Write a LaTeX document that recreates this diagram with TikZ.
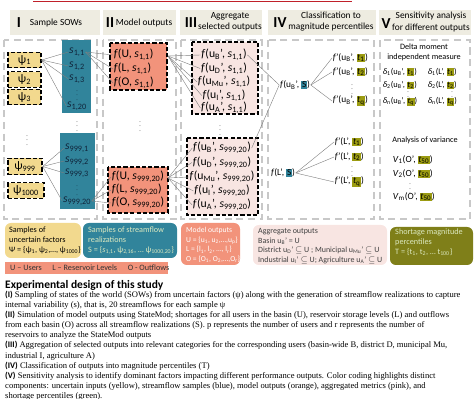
\documentclass[tikz,border=0pt]{standalone}
\usepackage{fontspec}
\setmainfont{Liberation Serif}
\setsansfont{Carlito}
\usetikzlibrary{arrows.meta,positioning,calc}
\definecolor{hdrgray}{HTML}{EEECE1}
\definecolor{panelgray}{HTML}{C8C8C8}
\definecolor{wiregray}{HTML}{7F7F7F}
\definecolor{sowyel}{HTML}{F2D98E}
\definecolor{flowblue}{HTML}{31849B}
\definecolor{outorange}{HTML}{F2937B}
\definecolor{aggpink}{HTML}{F8E5E2}
\definecolor{pctolive}{HTML}{7F7F19}
\definecolor{hlolive}{HTML}{9C9C12}
\definecolor{navytext}{HTML}{10243A}
\definecolor{palegreen}{HTML}{DCE9C0}
\definecolor{topred}{HTML}{C0202A}
\newcommand\sbs[1]{\textsubscript{#1}}
\newcommand\fout[2]{\textit{f}(#1, \textit{s}\sbs{#2})}
\newcommand\fagg[2]{\textit{f}(u\sbs{#1}', \textit{s}\sbs{#2})}
\newcommand\tmark[1]{{\setlength{\fboxsep}{0.5pt}\colorbox{hlolive}{\textit{t}\sbs{#1}}}}
\newcommand\Smark{{\setlength{\fboxsep}{0.6pt}\colorbox{flowblue}{S}}}

\begin{document}
\begin{tikzpicture}[x=0.03cm,y=-0.03cm,font=\sffamily,
  panel/.style={draw=panelgray,line width=0.9pt,dash pattern=on 6pt off 4pt},
  cell/.style={draw=black,line width=1.1pt,dash pattern=on 3.5pt off 1.8pt},
  wire/.style={draw=wiregray,line width=0.35pt},
  itm/.style={inner sep=0.5pt,font=\sffamily\fontsize{10}{11}\selectfont},
  sml/.style={inner sep=0.5pt,font=\sffamily\fontsize{8}{9}\selectfont},
  tiny/.style={inner sep=0.5pt,font=\sffamily\fontsize{7.2}{8}\selectfont},
  hdtxt/.style={inner sep=0pt,align=center,font=\sffamily\fontsize{8}{9.4}\selectfont},
  hdnum/.style={inner sep=0pt,font=\sffamily\bfseries\fontsize{13}{13}\selectfont},
  leg/.style={anchor=north west,align=left,inner sep=0pt,font=\sffamily\fontsize{7}{8.4}\selectfont},
  vdt/.style={inner sep=0pt,font=\fontsize{5}{5}\selectfont}]
  \useasboundingbox (0,0) rectangle (474,399);
  \draw[topred,line width=1.3pt] (33,1.5) -- (352,1.5);
  % headers
  \fill[hdrgray] (10,10) rectangle (100,35);
  \fill[hdrgray] (103,10) rectangle (176,35);
  \fill[hdrgray] (180,10) rectangle (262,35);
  \fill[hdrgray] (268,10) rectangle (376,35);
  \fill[hdrgray] (379,10) rectangle (471,35);
  \node[hdnum] (hI) at (19,23) {I};
  \node[hdtxt] (tI) at (56,23) {Sample SOWs};
  \node[hdnum] (hII) at (110,23) {II};
  \node[hdtxt] (tII) at (144,23) {Model outputs};
  \node[hdnum] (hIII) at (191,23) {III};
  \node[hdtxt] (tIII) at (230,22) {Aggregate\\selected outputs};
  \node[hdnum] (hIV) at (280,23) {IV};
  \node[hdtxt] (tIV) at (331,22) {Classification to\\magnitude percentiles};
  \node[hdnum] (hV) at (386,24) {V};
  \node[hdtxt] (tV) at (431,22) {Sensitivity analysis\\for different outputs};
  % dashed panels
  \draw[panel] (4,40) rectangle (97,219);
  \draw[panel] (103,40) rectangle (176,219);
  \draw[panel] (181,40) rectangle (262,219);
  \draw[panel] (268,40) rectangle (374,219);
  \draw[panel] (380,40) rectangle (470,219);

  % I: uncertain factors and streamflows
  \node[cell,fill=sowyel,itm,minimum width=0.99cm,minimum height=0.46cm] (psi1) at (24.5,60) {ψ\sbs{1}};
  \node[cell,fill=sowyel,itm,minimum width=0.99cm,minimum height=0.46cm] (psi2) at (24.5,79.5) {ψ\sbs{2}};
  \node[cell,fill=sowyel,itm,minimum width=0.99cm,minimum height=0.46cm] (psi3) at (24.5,97) {ψ\sbs{3}};
  \node[vdt] (vpsi) at (27,137) {$\vdots$};
  \node[cell,fill=sowyel,itm,minimum width=1.02cm,minimum height=0.5cm] (psi999) at (25,166.5) {ψ\sbs{999}};
  \node[cell,fill=sowyel,itm,minimum width=1.08cm,minimum height=0.46cm] (psi1000) at (26,190.5) {ψ\sbs{1000}};
  \fill[flowblue] (62,40) rectangle (91,113);
  \begin{scope}[every node/.style={itm,text=navytext}]
    \node (s11) at (77,52) {\textit{s}\sbs{1,1}};
    \node (s12) at (77,66) {\textit{s}\sbs{1,2}};
    \node (s13) at (77,79) {\textit{s}\sbs{1,3}};
    \node (s120) at (77,106) {\textit{s}\sbs{1,20}};
  \end{scope}
  \node[vdt,text=navytext] (vs1) at (77,92) {$\vdots$};
  \node[vdt] (vs) at (77,123) {$\vdots$};
  \fill[flowblue] (60,133) rectangle (95,209);
  \begin{scope}[every node/.style={itm,text=navytext}]
    \node (s9991) at (77,148) {\textit{s}\sbs{999,1}};
    \node (s9992) at (77,161) {\textit{s}\sbs{999,2}};
    \node (s9993) at (77,173) {\textit{s}\sbs{999,3}};
    \node (s99920) at (77,201) {\textit{s}\sbs{999,20}};
  \end{scope}
  \node[vdt,text=navytext] (vs999) at (77,187) {$\vdots$};
  \foreach \k in {s11,s12,s13,s120} \draw[wire] (psi1.east) -- (\k.west);
  \foreach \k in {s9991,s9992,s9993,s99920} \draw[wire] (psi999.east) -- (\k.west);

  % II: model outputs
  \fill[outorange] (110,43) rectangle (167,90);
  \draw[cell] (110,43) rectangle (167,90);
  \node[itm,anchor=west] (fU1) at (113,55) {\fout{U}{1,1}};
  \node[itm,anchor=west] (fL1) at (113,69) {\fout{L}{1,1}};
  \node[itm,anchor=west] (fO1) at (113,83) {\fout{O}{1,1}};
  \node[vdt] (vf) at (140,123) {$\vdots$};
  \fill[outorange] (108,167) rectangle (168,213);
  \draw[cell] (108,167) rectangle (168,213);
  \node[itm,anchor=west] (fU2) at (111,177) {\fout{U}{999,20}};
  \node[itm,anchor=west] (fL2) at (111,190) {\fout{L}{999,20}};
  \node[itm,anchor=west] (fO2) at (111,203) {\fout{O}{999,20}};
  \foreach \k in {fU1,fL1,fO1} \draw[wire] (s11.east) -- (\k.west);
  \foreach \k in {fU2,fL2,fO2} \draw[wire] (s99920.east) -- (\k.west);

  % III: aggregated outputs
  \fill[aggpink] (192,42) rectangle (258,114);
  \draw[cell] (192,42) rectangle (258,114);
  \node[itm] (aB1) at (224,55) {\fagg{B}{1,1}};
  \node[itm] (aD1) at (224,68.5) {\fagg{D}{1,1}};
  \node[itm] (aM1) at (224,82) {\fagg{Mu}{1,1}};
  \node[itm] (aI1) at (224,95.5) {\fagg{I}{1,1}};
  \node[itm] (aA1) at (224,108) {\fagg{A}{1,1}};
  \node[vdt] (va) at (220,127) {$\vdots$};
  \fill[aggpink] (187,138) rectangle (258,215);
  \draw[cell] (187,138) rectangle (258,215);
  \node[itm] (aB2) at (222,148) {\fagg{B}{999,20}};
  \node[itm] (aD2) at (222,162.5) {\fagg{D}{999,20}};
  \node[itm] (aM2) at (222,177) {\fagg{Mu}{999,20}};
  \node[itm] (aI2) at (222,191) {\fagg{I}{999,20}};
  \node[itm] (aA2) at (222,205) {\fagg{A}{999,20}};
  \coordinate (otop) at (168,56);
  \coordinate (obot) at (168,178);
  \foreach \k in {aB1,aD1,aM1,aI1,aA1} \draw[wire] (otop) -- (\k.west);
  \foreach \k in {aB2,aD2,aM2,aI2,aA2} \draw[wire] (obot) -- (\k.west);

  % IV: percentiles
  \node[sml] (fBS) at (295,85) {\textit{f}(u\sbs{B}', \Smark)};
  \node[sml] (fLS) at (283,173) {\textit{f}(L', \Smark)};
  \draw[wire] (aB1.east) -- (fBS.west);
  \draw[wire] (aB2.east) -- (fBS.west);
  \node[sml,anchor=west] (pB1) at (332,58) {\textit{f}'(u\sbs{B}', \tmark{1})};
  \node[sml,anchor=west] (pB2) at (332,72) {\textit{f}'(u\sbs{B}', \tmark{2})};
  \node[vdt] (vpB) at (352,86) {$\vdots$};
  \node[sml,anchor=west] (pBq) at (332,101) {\textit{f}'(u\sbs{B}', \tmark{q})};
  \node[sml,anchor=west] (pL1) at (334,142) {\textit{f}'(L', \tmark{1})};
  \node[sml,anchor=west] (pL2) at (334,157) {\textit{f}'(L', \tmark{2})};
  \node[vdt] (vpL) at (352,168.5) {$\vdots$};
  \node[sml,anchor=west] (pLq) at (334,182) {\textit{f}'(L', \tmark{q})};
  \foreach \k in {pB1,pB2,pBq} \draw[wire] (fBS.east) -- (\k.west);
  \foreach \k in {pL1,pL2,pLq} \draw[wire] (fLS.east) -- (\k.west);

  % V: sensitivity analysis
  \node[hdtxt,font=\sffamily\fontsize{7}{8.6}\selectfont] (dmim) at (424,52) {Delta moment\\independent measure};
  \node[tiny,anchor=west] (dB1) at (382,72) {\textit{δ}\sbs{1}(u\sbs{B}', \tmark{1})};
  \node[tiny,anchor=west] (dL1) at (427,72) {\textit{δ}\sbs{1}(L', \tmark{1})};
  \node[tiny,anchor=west] (dB2) at (382,85.5) {\textit{δ}\sbs{2}(u\sbs{B}', \tmark{2})};
  \node[tiny,anchor=west] (dL2) at (427,85.5) {\textit{δ}\sbs{2}(L', \tmark{2})};
  \node[vdt] (vdB) at (408,93.5) {$\vdots$};
  \node[vdt] (vdL) at (452,93.5) {$\vdots$};
  \node[tiny,anchor=west] (dBn) at (382,102) {\textit{δ}\sbs{n}(u\sbs{B}', \tmark{q})};
  \node[tiny,anchor=west] (dLn) at (427,102) {\textit{δ}\sbs{n}(L', \tmark{q})};
  \node[hdtxt,font=\sffamily\fontsize{7}{8.6}\selectfont] (aov) at (425,140) {Analysis of variance};
  \node[sml,anchor=west] (V1) at (392,160) {\textit{V}\sbs{1}(O', \tmark{50})};
  \node[sml,anchor=west] (V2) at (392,174) {\textit{V}\sbs{2}(O', \tmark{50})};
  \node[vdt] (vV) at (410,185.5) {$\vdots$};
  \node[sml,anchor=west] (Vm) at (392,197) {\textit{V}\sbs{m}(O', \tmark{50})};

  % legend boxes
  \fill[sowyel,rounded corners=5pt] (5,223) rectangle (81,258);
  \node[leg] (lgY) at (9,227) {Samples of\\uncertain factors\\Ψ = \{ψ\sbs{1}, ψ\sbs{2},…, ψ\sbs{1000}\}};
  \fill[flowblue,rounded corners=5pt] (83,223) rectangle (177,258);
  \node[leg,text=palegreen] (lgB) at (88,227) {Samples of streamflow\\realizations\\S = \{\textit{s}\sbs{1,1}, ψ\sbs{2,16}, … ψ\sbs{1000,20}\}};
  \fill[outorange,rounded corners=5pt] (181,223) rectangle (240,265);
  \node[leg,text=white,font=\sffamily\fontsize{6.5}{8.3}\selectfont] (lgO) at (186,227) {Model outputs\\U = \{u\sbs{1}, u\sbs{2},…,u\sbs{p}\}\\L = \{l\sbs{1}, l\sbs{2}, …, l\sbs{r}\}\\O = \{O\sbs{1}, O\sbs{2},…,O\sbs{r}\}};
  \fill[outorange] (5,262) rectangle (168,274);
  \node[leg,anchor=west,text=black!80] (lgU) at (10,268) {U – Users\hspace{1.3em}L – Reservoir Levels\hspace{1.3em}O - Outflows};
  \fill[aggpink,rounded corners=5pt] (253,225) rectangle (387,265);
  \node[leg,text=black!75,font=\sffamily\fontsize{6.8}{8.3}\selectfont] (lgP) at (258,228) {Aggregate outputs\\Basin u\sbs{B}' = U\\District u\sbs{D}' $\subseteq$ U ; Municipal u\sbs{Mu}' $\subseteq$ U\\Industrial u\sbs{I}' $\subseteq$ U; Agriculture u\sbs{A}' $\subseteq$ U};
  \fill[pctolive,rounded corners=5pt] (390,227) rectangle (473,265);
  \node[leg,text=palegreen] (lgG) at (395,229) {Shortage magnitude\\percentiles\\T = \{t\sbs{1}, t\sbs{2}, … t\sbs{100}\}};

  % description
  \node[anchor=west,inner sep=0pt,font=\sffamily\bfseries\fontsize{9.8}{12}\selectfont] (design) at (5,285) {Experimental design of this study};
  \node[anchor=north west,align=left,inner sep=0pt,font=\rmfamily\fontsize{7.3}{8.6}\selectfont] (notes) at (5,291) {%
    \textsf{\bfseries (I)} Sampling of states of the world (SOWs) from uncertain factors (ψ) along with the generation of streamflow realizations to capture\\
    internal variability (s), that is, 20 streamflows for each sample ψ\\
    \textsf{\bfseries (II)} Simulation of model outputs using StateMod; shortages for all users in the basin (U), reservoir storage levels (L) and outflows\\
    from each basin (O) across all streamflow realizations (S). p represents the number of users and r represents the number of\\
    reservoirs to analyze the StateMod outputs\\
    \textsf{\bfseries (III)} Aggregation of selected outputs into relevant categories for the corresponding users (basin-wide B, district D, municipal Mu,\\
    industrial I, agriculture A)\\
    \textsf{\bfseries (IV)} Classification of outputs into magnitude percentiles (T)\\
    \textsf{\bfseries (V)} Sensitivity analysis to identify dominant factors impacting different performance outputs. Color coding highlights distinct\\
    components: uncertain inputs (yellow), streamflow samples (blue), model outputs (orange), aggregated metrics (pink), and\\
    shortage percentiles (green).};
\end{tikzpicture}
\end{document}
